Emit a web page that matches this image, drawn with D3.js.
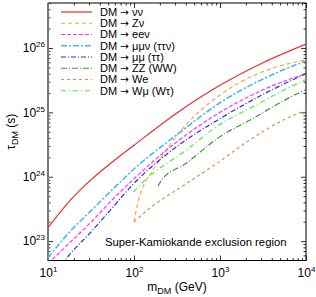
<!DOCTYPE html>
<html>
<head>
<meta charset="utf-8">
<script src="https://cdn.jsdelivr.net/npm/d3@7"></script>
<style>
  body { margin: 0; background: #fff; }
  text { font-family: "Liberation Sans", Arial, sans-serif; fill: #000; }
</style>
</head>
<body>
<div id="chart"></div>
<script>
// masses in GeV, lifetimes in s
const massNuNu   = [10, 18, 32, 56, 100, 316, 1000, 3162, 10000];
const tauNuNu    = [1.62e23, 4.27e23, 9.1e23, 1.70e24, 3.09e24, 9.8e24, 2.63e25, 5.9e25, 1.15e26];
const massZNu    = [100, 112, 126, 158, 200, 316, 1000, 3162, 10000];
const tauZNu     = [2.0e23, 4.2e23, 6.8e23, 1.15e24, 1.86e24, 4.4e24, 1.86e25, 4.3e25, 6.5e25];
const massEENu   = [10, 18, 32, 56, 100, 316, 1000, 3162, 10000];
const tauEENu    = [4.5e22, 9.5e22, 2.0e23, 4.4e23, 9.3e23, 3.5e24, 1.0e25, 2.24e25, 4.0e25];
const massMuMuNu = [10, 18, 32, 56, 100, 316, 1000, 3162, 10000];
const tauMuMuNu  = [5.5e22, 1.41e23, 3.0e23, 6.3e23, 1.32e24, 4.5e24, 1.41e25, 3.3e25, 6.3e25];
const massMuMu   = [10, 12.6, 18, 32, 56, 100, 316, 1000, 3162, 10000];
const tauMuMu    = [2.5e22, 3.5e22, 6.3e22, 1.41e23, 3.3e23, 7.9e23, 2.95e24, 8.0e24, 1.9e25, 4.0e25];
const massZZ     = [190, 210, 400, 1000, 2400, 6000, 10000];
const tauZZ      = [7.1e23, 8.9e23, 1.6e24, 4.2e24, 8.0e24, 1.62e25, 2.27e25];
const massWE     = [100, 155, 380, 900, 2200, 6000, 10000];
const tauWE      = [2.0e23, 3.3e23, 7.4e23, 1.58e24, 3.7e24, 8.1e24, 1.07e25];
const massWMu    = [98, 132, 390, 1000, 2400, 6000, 10000];
const tauWMu     = [5.8e23, 8.7e23, 2.5e24, 6.5e24, 1.22e25, 2.34e25, 3.24e25];

// final states shown after "DM →"
const legendLabels = ["\u03bd\u03bd", "Z\u03bd", "ee\u03bd",
  "\u03bc\u03bc\u03bd (\u03c4\u03c4\u03bd)", "\u03bc\u03bc (\u03c4\u03c4)",
  "ZZ (WW)", "We", "W\u03bc (W\u03c4)"];
const xTicks = [10, 100, 1000, 10000];
const yTicks = [1e23, 1e24, 1e25, 1e26];

const series = [
  { m: massNuNu,   t: tauNuNu,   color: "#f02a2a", dash: null,        w: 1.2 },
  { m: massZNu,    t: tauZNu,    color: "#f0a850", dash: "4,3",       w: 1.2 },
  { m: massEENu,   t: tauEENu,   color: "#ff33ff", dash: "4,2",       w: 1.2 },
  { m: massMuMuNu, t: tauMuMuNu, color: "#44bbee", dash: "6,2,2,2",   w: 1.6 },
  { m: massMuMu,   t: tauMuMu,   color: "#2a2aee", dash: "5,2,1,2",   w: 1.2 },
  { m: massZZ,     t: tauZZ,     color: "#3c963c", dash: "6,2,1,2",   w: 1.2 },
  { m: massWE,     t: tauWE,     color: "#e88a48", dash: "3,3",       w: 1.2 },
  { m: massWMu,    t: tauWMu,    color: "#3cf03c", dash: "5,3,1,3",   w: 1.2 }
];

const W = 316, H = 297;
const margin = { top: 3, right: 10, bottom: 36.5, left: 48 };
const width = W - margin.left - margin.right;
const height = H - margin.top - margin.bottom;

const svg = d3.select("#chart").append("svg")
  .attr("width", W).attr("height", H);
const g = svg.append("g").attr("transform", `translate(${margin.left},${margin.top})`);

const x = d3.scaleLog().domain([10, 1e4]).range([0, width]);
const y = d3.scaleLog().domain([5e22, 5e26]).range([height, 0]);

g.append("clipPath").attr("id", "clip")
  .append("rect").attr("width", width).attr("height", height);

// minor tick values
const minorX = [], minorY = [];
for (let d = 10; d < 1e4; d *= 10) for (let k = 2; k <= 9; k++) minorX.push(d * k);
for (let d = 1e22; d < 1e27; d *= 10) for (let k = 2; k <= 9; k++) {
  const v = d * k;
  if (v > 5e22 && v < 5e26) minorY.push(v);
}

function supLabels(sel, expOf) {
  sel.selectAll(".tick text").each(function(d) {
    const t = d3.select(this);
    t.text(null);
    t.append("tspan").text("10");
    t.append("tspan").attr("font-size", 8).attr("dy", -5).text(expOf(d));
  });
}
const expo = d => Math.round(Math.log10(d));

// bottom
const xb = g.append("g").attr("transform", `translate(0,${height})`)
  .call(d3.axisBottom(x).tickValues(xTicks).tickSize(-5).tickPadding(7.5).tickFormat(d => d));
supLabels(xb, expo);
g.append("g").attr("transform", `translate(0,${height})`)
  .call(d3.axisBottom(x).tickValues(minorX).tickSize(-2.5).tickFormat(""));
// top
g.append("g").call(d3.axisTop(x).tickValues(xTicks).tickSize(-5).tickFormat(""));
g.append("g").call(d3.axisTop(x).tickValues(minorX).tickSize(-2.5).tickFormat(""));
// left
const yl = g.append("g")
  .call(d3.axisLeft(y).tickValues(yTicks).tickSize(-5).tickPadding(3).tickFormat(d => d));
supLabels(yl, expo);
g.append("g").call(d3.axisLeft(y).tickValues(minorY).tickSize(-2.5).tickFormat(""));
// right
g.append("g").attr("transform", `translate(${width},0)`)
  .call(d3.axisRight(y).tickValues(yTicks).tickSize(-5).tickFormat(""));
g.append("g").attr("transform", `translate(${width},0)`)
  .call(d3.axisRight(y).tickValues(minorY).tickSize(-2.5).tickFormat(""));

g.selectAll(".domain").remove();
g.selectAll(".tick line").attr("stroke", "#000").attr("stroke-width", 0.8);
g.selectAll(".tick text").attr("font-size", 12).attr("fill", "#000")
  .attr("font-family", "'Liberation Sans', Arial, sans-serif");

g.append("rect").attr("width", width).attr("height", height)
  .attr("fill", "none").attr("stroke", "#000").attr("stroke-width", 1);
g.append("line").attr("x1", 0).attr("x2", 0).attr("y1", 0).attr("y2", height)
  .attr("stroke", "#777").attr("stroke-width", 2);

// curves
const line = d3.line().x(d => x(d[0])).y(d => y(d[1])).curve(d3.curveMonotoneX);
const curves = g.append("g").attr("clip-path", "url(#clip)");
series.forEach(s => {
  curves.append("path")
    .datum(s.m.map((m, i) => [m, s.t[i]]))
    .attr("d", line)
    .attr("fill", "none")
    .attr("stroke", s.color)
    .attr("stroke-width", s.w)
    .attr("stroke-dasharray", s.dash);
});

// legend
const leg = g.append("g").attr("transform", "translate(13,9)");
legendLabels.forEach((lab, i) => {
  const s = series[i];
  const row = leg.append("g").attr("transform", `translate(0,${i * 11.25})`);
  row.append("line").attr("x1", 0).attr("x2", 31)
    .attr("stroke", s.color).attr("stroke-width", s.w).attr("stroke-dasharray", s.dash);
  const t = row.append("text").attr("x", 39).attr("dy", "0.35em").attr("font-size", 11);
  t.append("tspan").text("DM ");
  t.append("tspan").attr("font-family", "'DejaVu Sans'").attr("font-size", 10.5).text("\u2192");
  t.append("tspan").text(" " + lab);
});

g.append("text").attr("x", 57).attr("y", 246 - margin.top).attr("font-size", 11.3)
  .text("Super-Kamiokande exclusion region");

// axis titles
const xt = svg.append("text").attr("x", margin.left + width / 2).attr("y", 291)
  .attr("text-anchor", "middle").attr("font-size", 12);
xt.append("tspan").text("m");
xt.append("tspan").attr("font-size", 9).attr("dy", 3).text("DM");
xt.append("tspan").attr("dy", -3).text(" (GeV)");

const yt = svg.append("text")
  .attr("transform", `translate(15,${margin.top + height / 2}) rotate(-90)`)
  .attr("text-anchor", "middle").attr("font-size", 12);
yt.append("tspan").text("\u03c4");
yt.append("tspan").attr("font-size", 9).attr("dy", 3).text("DM");
yt.append("tspan").attr("dy", -3).text(" (s)");
</script>
</body>
</html>
